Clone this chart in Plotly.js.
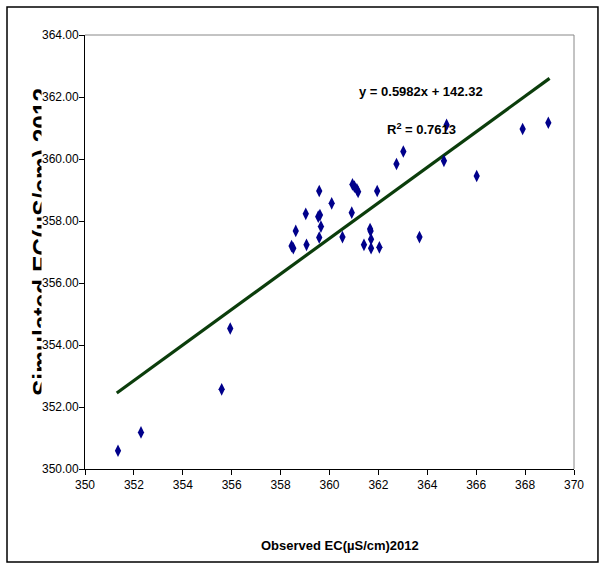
<!DOCTYPE html>
<html>
<head>
<meta charset="utf-8">
<script src="https://cdn.plot.ly/plotly-3.0.1.min.js"></script>
<style>
html,body{margin:0;padding:0;background:#fff;}
#chart{width:602px;height:565px;}
</style>
</head>
<body>
<div id="chart"></div>
<script>
// Observed vs simulated EC (µS/cm), 2012
var observedEC = [351.35, 352.29, 355.59, 355.94, 358.45, 358.52, 358.62, 359.03, 359.06, 359.54,
                  359.61, 359.58, 359.65, 359.58, 360.09, 360.53, 360.91, 360.94, 361.02, 361.12,
                  361.17, 361.41, 361.66, 361.68, 361.70, 361.70, 361.95, 362.04, 362.74, 363.02,
                  363.68, 364.68, 364.79, 366.02, 367.90, 368.95];
var simulatedEC = [350.59, 351.18, 352.57, 354.53, 357.19, 357.12, 357.68, 358.23, 357.23, 358.14,
                   358.19, 358.97, 357.82, 357.47, 358.57, 357.48, 358.27, 359.18, 359.11, 359.02,
                   358.94, 357.23, 357.74, 357.68, 357.41, 357.12, 358.97, 357.15, 359.84, 360.24,
                   357.48, 359.94, 361.10, 359.45, 360.97, 361.17];
// Linear trendline end points as drawn
var trendX = [351.3, 369.0];
var trendY = [352.45, 362.6];
var xTickVals = [350, 352, 354, 356, 358, 360, 362, 364, 366, 368, 370];
var xTickText = ['350', '352', '354', '356', '358', '360', '362', '364', '366', '368', '370'];
var yTickVals = [350, 352, 354, 356, 358, 360, 362, 364];
var yTickText = ['350.00', '352.00', '354.00', '356.00', '358.00', '360.00', '362.00', '364.00'];
var equationText = "y = 0.5982x + 142.32";
var r2Text = "R<sup>2</sup> = 0.7613";
var xTitle = "Observed EC(µS/cm)2012";
var yTitle = "Simulated EC(µS/cm) 2012";

var FONT = "'Liberation Sans', Arial, sans-serif";

var traces = [
  {
    x: trendX, y: trendY, type: 'scatter', mode: 'lines',
    line: {color: '#0b3d0b', width: 3.2}, hoverinfo: 'skip', showlegend: false
  },
  {
    x: observedEC, y: simulatedEC, type: 'scatter', mode: 'markers',
    marker: {symbol: 'diamond-tall', size: 9, color: '#00008b', line: {width: 0}},
    showlegend: false
  }
];

var annotations = [
  {xref: 'paper', yref: 'paper', x: (421 - 85) / 489, y: (469 - 91) / 434, text: '<b>' + equationText + '</b>',
   showarrow: false, xanchor: 'center', yanchor: 'middle', font: {family: FONT, size: 13, color: '#000'}},
  {xref: 'paper', yref: 'paper', x: (421 - 85) / 489, y: (469 - 129) / 434, text: '<b>' + r2Text + '</b>',
   showarrow: false, xanchor: 'center', yanchor: 'middle', font: {family: FONT, size: 13, color: '#000'}},
  {xref: 'paper', yref: 'paper', x: (340 - 85) / 489, y: (469 - 545) / 434, text: '<b>' + xTitle + '</b>',
   showarrow: false, xanchor: 'center', yanchor: 'middle', font: {family: FONT, size: 13, color: '#000'}},
  // large y-axis title, partly hidden behind the tick-label strip as in the reference
  {xref: 'paper', yref: 'paper', x: (41 - 85) / 489, y: (469 - 242) / 434, text: '<b>' + yTitle + '</b>',
   showarrow: false, xanchor: 'center', yanchor: 'middle', textangle: -90, font: {family: FONT, size: 24.5, color: '#000'}},
  {xref: 'paper', yref: 'paper', x: (50 - 85) / 489, y: (469 - 242) / 434, text: ' ',
   showarrow: false, xanchor: 'center', yanchor: 'middle', width: 16, height: 370,
   bgcolor: '#ffffff', borderpad: 0, font: {size: 1}}
];
// y tick labels drawn on top of the strip, positioned by the y axis scale
for (var i = 0; i < yTickVals.length; i++) {
  annotations.push({xref: 'paper', yref: 'y', x: (80 - 85) / 489, y: yTickVals[i], text: yTickText[i],
    showarrow: false, xanchor: 'right', yanchor: 'middle', borderpad: 0,
    font: {family: FONT, size: 12, color: '#000'}});
}

var layout = {
  width: 602, height: 565,
  margin: {l: 85, r: 28, t: 35, b: 96},
  paper_bgcolor: '#ffffff', plot_bgcolor: '#ffffff',
  font: {family: FONT, size: 12, color: '#000'},
  showlegend: false,
  xaxis: {
    range: [350, 370], tickvals: xTickVals, ticktext: xTickText,
    showgrid: false, zeroline: false, showline: true, linecolor: '#000', linewidth: 1,
    ticks: 'outside', ticklen: 5, tickcolor: '#000', tickwidth: 1,
    tickfont: {family: FONT, size: 12, color: '#000'}, fixedrange: true
  },
  yaxis: {
    range: [350, 364], tickvals: yTickVals, showticklabels: false,
    showgrid: false, zeroline: false, showline: true, linecolor: '#000', linewidth: 1,
    ticks: 'outside', ticklen: 5, tickcolor: '#000', tickwidth: 1, fixedrange: true
  },
  shapes: [
    {type: 'rect', xref: 'paper', yref: 'paper', x0: -0.1595, x1: 1.049, y0: -0.2143, y1: 1.0645,
     line: {color: '#000', width: 1.5}, fillcolor: 'rgba(0,0,0,0)'},
    {type: 'line', xref: 'paper', yref: 'paper', x0: 0, x1: 1, y0: 1, y1: 1, line: {color: '#888', width: 1}},
    {type: 'line', xref: 'paper', yref: 'paper', x0: 1, x1: 1, y0: 0, y1: 1, line: {color: '#888', width: 1}}
  ],
  annotations: annotations
};

Plotly.newPlot('chart', traces, layout, {staticPlot: true, displayModeBar: false});
</script>
</body>
</html>
